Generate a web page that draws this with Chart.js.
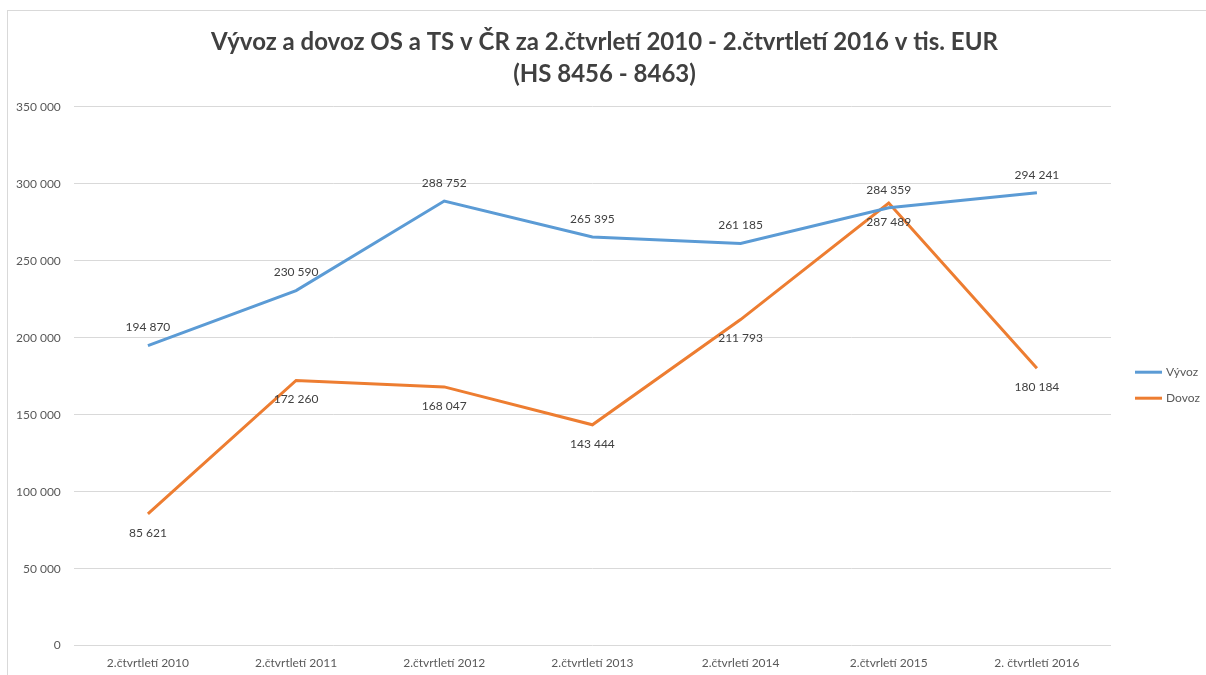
<!DOCTYPE html>
<html lang="cs">
<head>
<meta charset="UTF-8">
<title>Vývoz a dovoz OS a TS</title>
<script src="https://cdn.jsdelivr.net/npm/chart.js"></script>
<style>
  html, body { margin: 0; padding: 0; background: #ffffff; }
  .wrap { position: relative; width: 1206px; height: 675px; }
</style>
</head>
<body>
<div class="wrap"><canvas id="chart"></canvas></div>
<script>
// data
const quarters = ['2.čtvrtletí 2010', '2.čtvrtletí 2011', '2.čtvrtletí 2012', '2.čtvrtletí 2013',
                  '2.čtvrletí 2014', '2.čtvrletí 2015', '2. čtvrtletí 2016'];
const vyvoz = [194870, 230590, 288752, 265395, 261185, 284359, 294241];
const dovoz = [85621, 172260, 168047, 143444, 211793, 287489, 180184];
const yTicks = [0, 50000, 100000, 150000, 200000, 250000, 300000, 350000];

const FONT = 'Lato, "Open Sans", sans-serif';
const fmt = v => String(v).replace(/\B(?=(\d{3})+(?!\d))/g, ' ');

// thin frame round the chart
const framePlugin = {
  id: 'frame',
  beforeDraw(chart) {
    const ctx = chart.ctx;
    ctx.save();
    ctx.strokeStyle = '#d9d9d9';
    ctx.lineWidth = 1;
    ctx.strokeRect(7.5, 10.5, 1210, 700);
    ctx.restore();
  }
};

// value labels above / below the points
const valueLabels = {
  id: 'valueLabels',
  afterDatasetsDraw(chart) {
    const ctx = chart.ctx;
    ctx.save();
    ctx.font = '12px ' + FONT;
    ctx.fillStyle = '#404040';
    ctx.textAlign = 'center';
    ctx.textBaseline = 'middle';
    chart.data.datasets.forEach((ds, di) => {
      const meta = chart.getDatasetMeta(di);
      meta.data.forEach((pt, i) => {
        ctx.fillText(fmt(ds.data[i]), pt.x, pt.y + ds.labelOffset);
      });
    });
    ctx.restore();
  }
};

// legend on the right, Excel style (line sample + name)
const sideLegend = {
  id: 'sideLegend',
  afterDraw(chart) {
    const ctx = chart.ctx;
    const area = chart.chartArea;
    const x0 = area.right + 24;
    let y = (area.top + area.bottom) / 2 - 4;
    ctx.save();
    ctx.font = '12px ' + FONT;
    ctx.textBaseline = 'middle';
    ctx.textAlign = 'left';
    chart.data.datasets.forEach(ds => {
      ctx.strokeStyle = ds.borderColor;
      ctx.lineWidth = 3;
      ctx.beginPath();
      ctx.moveTo(x0, y);
      ctx.lineTo(x0 + 27, y);
      ctx.stroke();
      ctx.fillStyle = '#595959';
      ctx.fillText(ds.label, x0 + 31, y);
      y += 26;
    });
    ctx.restore();
  }
};

new Chart(document.getElementById('chart'), {
  type: 'line',
  data: {
    labels: quarters,
    datasets: [
      {
        label: 'Vývoz',
        data: vyvoz,
        borderColor: '#5B9BD5',
        backgroundColor: '#5B9BD5',
        borderWidth: 3,
        pointRadius: 0,
        tension: 0,
        labelOffset: -18
      },
      {
        label: 'Dovoz',
        data: dovoz,
        borderColor: '#ED7D31',
        backgroundColor: '#ED7D31',
        borderWidth: 3,
        pointRadius: 0,
        tension: 0,
        labelOffset: 19
      }
    ]
  },
  options: {
    responsive: true,
    maintainAspectRatio: false,
    animation: false,
    layout: { padding: { left: 3, right: 0, top: 12, bottom: -5 } },
    plugins: {
      title: {
        display: true,
        text: ['Vývoz a dovoz OS a TS v ČR za 2.čtvrletí 2010 - 2.čtvrtletí 2016 v tis. EUR', '(HS 8456 - 8463)'],
        color: '#404040',
        font: { family: FONT, size: 24, weight: 'bold', lineHeight: 1.35 },
        padding: { top: 14, bottom: 16 }
      },
      legend: { display: false },
      tooltip: { enabled: false }
    },
    scales: {
      x: {
        offset: true,
        grid: { display: false, drawTicks: false },
        border: { display: false },
        ticks: { color: '#595959', font: { family: FONT, size: 12 }, padding: 10, maxRotation: 0 }
      },
      y: {
        min: 0,
        max: 350000,
        afterBuildTicks: axis => { axis.ticks = yTicks.map(v => ({ value: v })); },
        grid: { color: '#d9d9d9', drawTicks: false },
        border: { display: false },
        ticks: { color: '#595959', font: { family: FONT, size: 12 }, padding: 13, callback: v => fmt(v) }
      },
      // empty strip on the right that holds the legend
      legendSpace: {
        type: 'linear',
        position: 'right',
        grid: { display: false, drawTicks: false },
        border: { display: false },
        ticks: { display: false },
        afterFit: scale => { scale.width = 95; }
      }
    }
  },
  plugins: [framePlugin, valueLabels, sideLegend]
});
</script>
</body>
</html>
